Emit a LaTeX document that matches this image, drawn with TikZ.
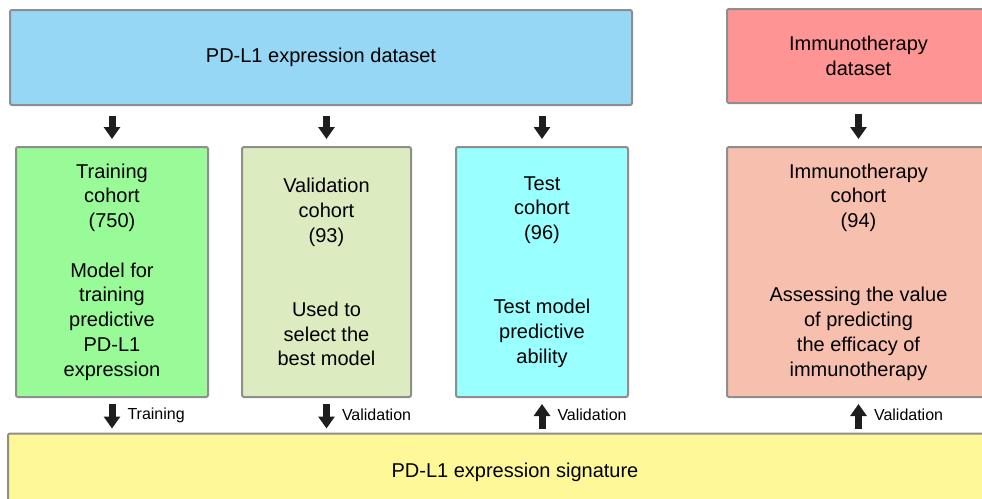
\documentclass[tikz,border=0pt]{standalone}
\usepackage{fontspec}
\setmainfont{Liberation Sans}
\usetikzlibrary{arrows.meta}
\definecolor{dataBlue}{HTML}{95D7F5}
\definecolor{immRed}{HTML}{FF9494}
\definecolor{trainGreen}{HTML}{98FB98}
\definecolor{validGreen}{HTML}{DDEBC0}
\definecolor{testCyan}{HTML}{99FFFF}
\definecolor{immPink}{HTML}{F7BFAE}
\definecolor{sigYellow}{HTML}{FFF898}
\definecolor{edgeGray}{HTML}{8E8E8E}
\definecolor{arrowBlack}{HTML}{1E1E1E}

\begin{document}
\begin{tikzpicture}[x=1pt,y=-1pt,
  box/.style={draw=edgeGray,line width=2pt,rounded corners=2pt,rectangle,align=center,inner sep=0pt,font=\fontsize{20}{24.75}\selectfont},
  arr/.style={arrowBlack,line width=7pt,-{Triangle[length=12pt,width=16pt]}},
  lbl/.style={midway,right=12pt,inner sep=0pt,text=black,font=\fontsize{16}{19}\selectfont}]
\useasboundingbox (0,0) rectangle (982,498);
\clip (0,0) rectangle (982,498);
\node[box,fill=dataBlue,minimum width=622pt,minimum height=95pt] (data) at (321,57.5) {PD-L1 expression dataset};
\node[box,fill=immRed,minimum width=263pt,minimum height=94pt] (immdata) at (858.5,56) {Immunotherapy\\dataset};
\node[box,fill=trainGreen,minimum width=192pt,minimum height=250pt] (train) at (112,272) {Training\\cohort\\(750)\\[24.75pt]Model for\\training\\predictive\\PD-L1\\expression};
\node[box,fill=validGreen,minimum width=169pt,minimum height=250pt] (valid) at (326.5,272) {Validation\\cohort\\(93)\\[49.5pt]Used to\\select the\\best model};
\node[box,fill=testCyan,minimum width=172pt,minimum height=250pt] (test) at (542,272) {Test\\cohort\\(96)\\[49.5pt]Test model\\predictive\\ability};
\node[box,fill=immPink,minimum width=263pt,minimum height=250pt] (immcoh) at (858.5,272) {Immunotherapy\\cohort\\(94)\\[49.5pt]Assessing the value\\of predicting\\the efficacy of\\immunotherapy};
\node[box,fill=sigYellow,minimum width=1014pt,minimum height=78pt,yshift=-1.5pt] (sig) at (515,471) {PD-L1 expression signature};

\draw[arr,shorten <=10pt,shorten >=7pt] (data.south -| train.north) -- (train.north);
\draw[arr,shorten <=10pt,shorten >=7pt] (data.south -| valid.north) -- (valid.north);
\draw[arr,shorten <=10pt,shorten >=7pt] (data.south -| test.north) -- (test.north);
\draw[arr,shorten <=10pt,shorten >=7pt] (immdata) -- (immcoh);

\draw[arr,shorten <=6pt,shorten >=4pt] (train.south) -- (sig.north -| train.south) node[lbl] {Training};
\draw[arr,shorten <=6pt,shorten >=4pt] (valid.south) -- (sig.north -| valid.south) node[lbl] {Validation};
\draw[arr,shorten <=4pt,shorten >=6pt] (sig.north -| test.south) -- (test.south) node[lbl] {Validation};
\draw[arr,shorten <=4pt,shorten >=6pt] (sig.north -| immcoh.south) -- (immcoh.south) node[lbl] {Validation};
\end{tikzpicture}
\end{document}
